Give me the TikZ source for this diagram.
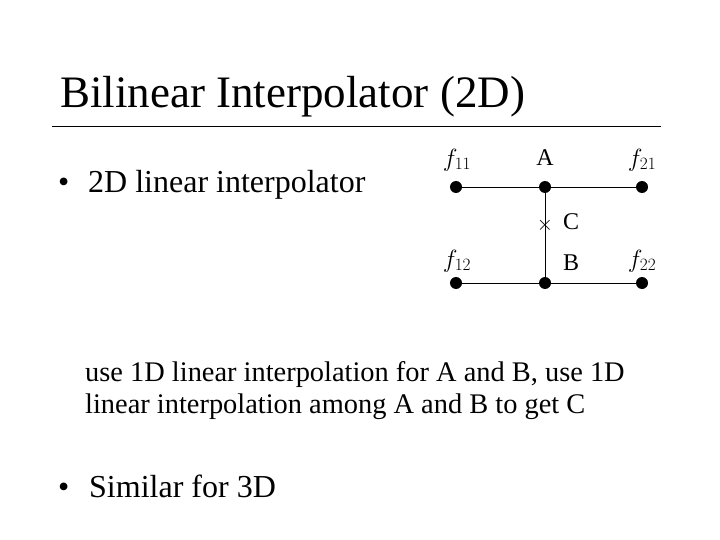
\documentclass[tikz,border=0pt]{standalone}
\usepackage{fontspec}
\setmainfont{Liberation Serif}
\begin{document}
\begin{tikzpicture}[x=1pt,y=-1pt,
  dot/.style={circle,fill=black,inner sep=0pt,minimum size=12pt},
  lbl/.style={font=\fontsize{24}{28}\selectfont,inner sep=0pt},
  flbl/.style={font=\fontsize{24}{28}\selectfont,inner sep=0pt},
  body/.style={font=\fontsize{32}{38}\selectfont,inner sep=0pt,anchor=base west},
  para/.style={font=\fontsize{28.4}{34}\selectfont,inner sep=0pt,anchor=base west}]
\useasboundingbox (0,0) rectangle (720,540);
\node[inner sep=0pt,anchor=base west,font=\fontsize{45}{52}\selectfont] (title) at (60,108) {Bilinear Interpolator (2D)};
\coordinate (rl) at (52,126);
\coordinate (rr) at (661,126);
\draw[line width=0.8pt] (rl) -- (rr);
\node[body] (bul1) at (58,193) {\textbullet};
\node[body] (b1) at (88,193) {2D linear interpolator};
% dots
\node[dot] (p11) at (456,187) {};
\node[dot] (pA) at (545,187) {};
\node[dot] (p21) at (642,187) {};
\node[dot] (p12) at (456,283) {};
\node[dot] (pB) at (545,283) {};
\node[dot] (p22) at (642,283) {};
\draw[line width=0.8pt] (p11) -- (pA) -- (p21);
\draw[line width=0.8pt] (p12) -- (pB) -- (p22);
\draw[line width=0.8pt] (pA) -- (pB);
\node[inner sep=0pt,font=\fontsize{20}{24}\selectfont] (x) at (545,225) {$\times$};
\node[lbl] (C) at (571,222) {C};
\node[lbl] (B) at (571,263) {B};
\node[lbl] (A) at (545,158) {A};
\node[flbl] (f11) at (457,160) {$f_{11}$};
\node[flbl] (f21) at (642,160) {$f_{21}$};
\node[flbl] (f12) at (457,261) {$f_{12}$};
\node[flbl] (f22) at (642,261) {$f_{22}$};
\node[para] (para) at (85,381) {use 1D linear interpolation for A and B, use 1D};
\node[para] (para2) at (85,413) {linear interpolation among A and B to get C};
\node[body] (bul2) at (58,497) {\textbullet};
\node[body] (b2) at (89,497) {Similar for 3D};
\end{tikzpicture}
\end{document}
